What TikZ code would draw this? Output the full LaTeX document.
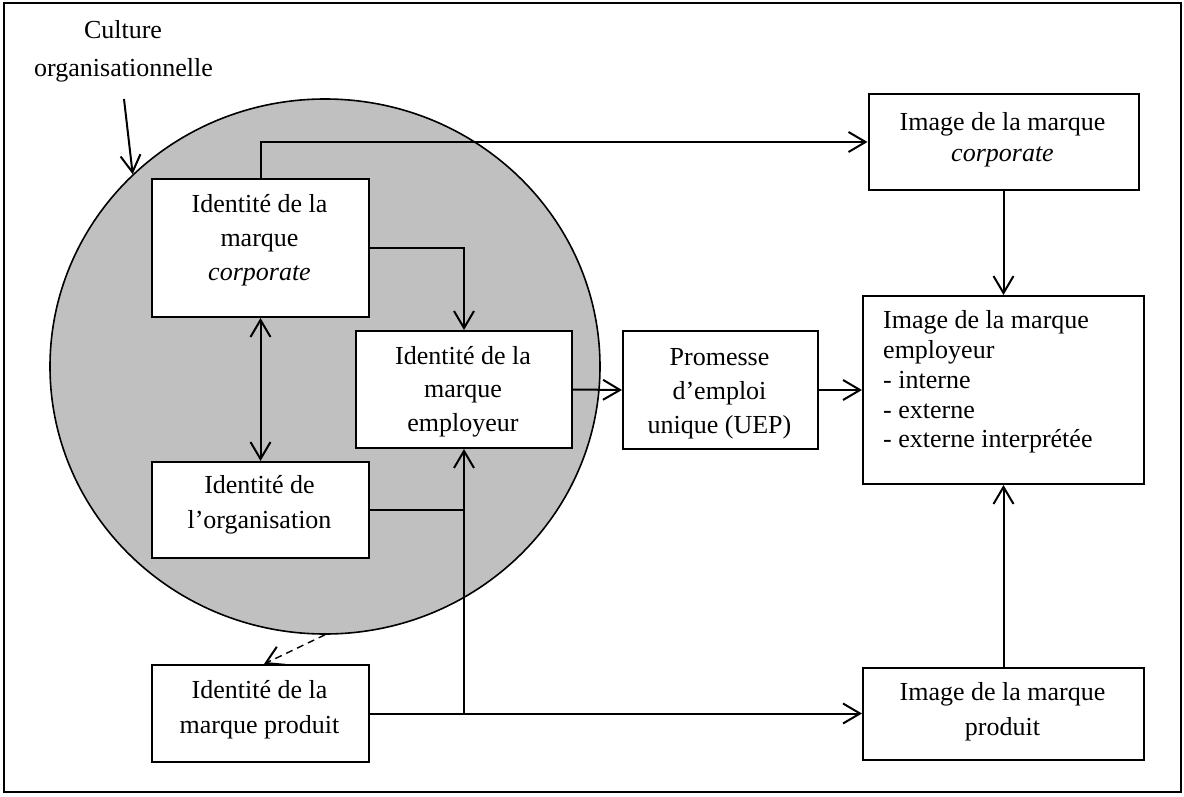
\documentclass[tikz,border=0pt]{standalone}
\usepackage{fontspec}
\setmainfont{Liberation Serif}
\usetikzlibrary{arrows.meta,shapes.geometric,calc}
\definecolor{circgray}{HTML}{C0C0C0}
\tikzset{
  box/.style={draw, line width=2pt, fill=white, inner sep=0pt, anchor=north west},
  lbl/.style={font=\fontsize{26}{30}\selectfont, inner sep=0pt, anchor=base},
  lbll/.style={lbl, anchor=base west},
  conn/.style={line width=2pt, -{Straight Barb[length=17pt,width=20pt,line width=2pt]}},
  plain/.style={line width=2pt},
}
\begin{document}
\begin{tikzpicture}[x=1pt,y=-1pt]
\useasboundingbox (0,0) rectangle (1184,797);
% outer frame
\draw[line width=2.6pt] (4,3) rectangle (1181,792);
% circle
\node[draw, ellipse, line width=1.6pt, fill=circgray, inner sep=0pt,
      minimum width=550pt, minimum height=535pt] (circ) at (325,366.5) {};
% boxes
\node[box, minimum width=217pt, minimum height=138pt] (icorp) at (151,178) {};
\node[box, minimum width=216pt, minimum height=117pt] (iemp) at (355,330) {};
\node[box, minimum width=217pt, minimum height=96pt] (iorg) at (151,461) {};
\node[box, minimum width=217pt, minimum height=97pt] (iprod) at (151,664) {};
\node[box, minimum width=195pt, minimum height=118pt] (prom) at (622,330) {};
\node[box, minimum width=270pt, minimum height=96pt] (mcorp) at (867.5,93) {};
\node[box, minimum width=281pt, minimum height=188pt] (memp) at (862,295) {};
\node[box, minimum width=281pt, minimum height=92pt] (mprod) at (862,667) {};
% texts
\node[lbl] (cult1) at (123,39) {Culture};
\node[lbl] (cult2) at (123.5,77) {organisationnelle};
\node[lbl] (ic1) at (259.5,212) {Identité de la};
\node[lbl] (ic2) at (259.5,246) {marque};
\node[lbl] (ic3) at (259.5,280) {\textit{corporate}};
\node[lbl] (ie1) at (463,364) {Identité de la};
\node[lbl] (ie2) at (463,397) {marque};
\node[lbl] (ie3) at (463,431) {employeur};
\node[lbl] (io1) at (259.5,493) {Identité de};
\node[lbl] (io2) at (259.5,528) {l’organisation};
\node[lbl] (ip1) at (259.5,698) {Identité de la};
\node[lbl] (ip2) at (259.5,733) {marque produit};
\node[lbl] (pr1) at (719.5,365) {Promesse};
\node[lbl] (pr2) at (719.5,399) {d’emploi};
\node[lbl] (pr3) at (719.5,433) {unique (UEP)};
\node[lbl] (mc1) at (1002.5,131) {Image de la marque};
\node[lbl] (mc2) at (1002.5,161) {\textit{corporate}};
\node[lbll] (me1) at (883,328) {Image de la marque};
\node[lbll] (me2) at (883,358) {employeur};
\node[lbll] (me3) at (883,388) {- interne};
\node[lbll] (me4) at (883,418) {- externe};
\node[lbll] (me5) at (883,447) {- externe interprétée};
\node[lbl] (mp1) at (1002.5,700) {Image de la marque};
\node[lbl] (mp2) at (1002.5,735) {produit};
% connectors
\coordinate (cultstart) at (124,99);
\draw[conn] (cultstart) -- (circ.135.5);
\draw[conn] (icorp.north) |- (mcorp.west);
\draw[conn] (icorp.east) -| (iemp.north);
\draw[line width=2pt, {Straight Barb[length=17pt,width=20pt,line width=2pt]}-{Straight Barb[length=17pt,width=20pt,line width=2pt]}] (icorp.south) -- (iorg.north);
\coordinate (jorg) at (iorg.east -| iemp.south);
\draw[plain] (iorg.east) -- (jorg);
\coordinate (mprodin) at (iprod.east -| mprod.west);
\draw[conn] (iprod.east) -- (mprodin);
\coordinate (jprod) at (iprod.east -| iemp.south);
\draw[conn] (jprod) -- (iemp.south);
\draw[conn] (iemp.east) -- (prom.west);
\draw[conn] (prom.east) -- (memp.west);
\draw[conn] (mcorp.south) -- (memp.north);
\draw[conn] (mprod.north) -- (memp.south);
\coordinate (dashend) at ($(iprod.north)+(3.5,0)$);
\draw[conn, line width=1.4pt, dash pattern=on 7pt off 5pt] (circ.south) -- (dashend);
\end{tikzpicture}
\end{document}
